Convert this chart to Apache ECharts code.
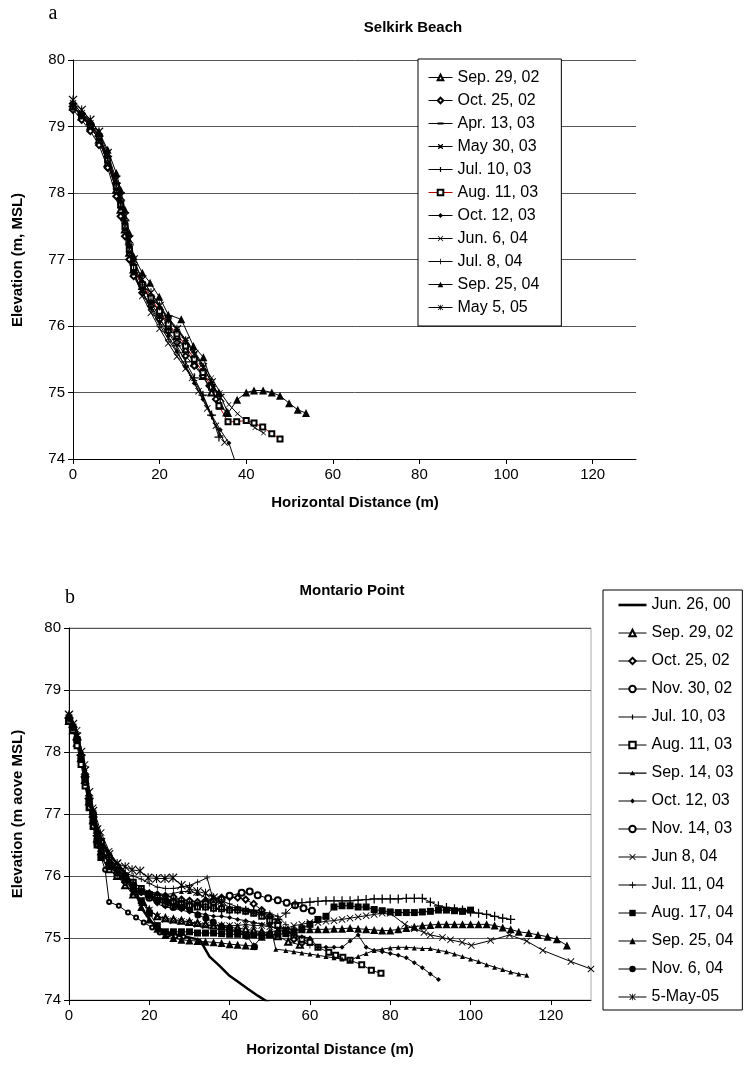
<!DOCTYPE html>
<html><head><meta charset="utf-8">
<script src="https://cdn.jsdelivr.net/npm/echarts@6/dist/echarts.min.js"></script>
<style>
html,body{margin:0;padding:0;background:#fff;}
#ca{position:absolute;left:0;top:0;width:746px;height:560px;}
#cb{position:absolute;left:0;top:560px;width:746px;height:506px;}
</style></head>
<body><div id="ca"></div><div id="cb"></div>
<script>
// ---------- DATA ----------
const xTicks = [0, 20, 40, 60, 80, 100, 120];
const xMax = 130;
const yMin = 74, yMax = 80;

// Selkirk Beach (a)
const selkirkNames = ['Sep. 29, 02','Oct. 25, 02','Apr. 13, 03','May 30, 03','Jul. 10, 03','Aug. 11, 03','Oct. 12, 03','Jun. 6, 04','Jul. 8, 04','Sep. 25, 04','May 5, 05'];
const sk_sep29_02 = [[0,79.3],[2,79.15],[4,79.0],[6,78.8],[8,78.45],[10,78.05],[11,77.75],[12,77.45],[13,77.1],[14,76.85],[16,76.6],[18,76.4],[20,76.2],[22,76.0],[24,75.85],[26,75.65],[28,75.45],[30,75.25],[32,75.0],[34,74.8],[35.5,74.7]];
const sk_oct25_02 = [[0,79.25],[2,79.1],[4,78.93],[6,78.72],[8,78.38],[10,77.95],[11,77.65],[12,77.35],[13,77.0],[14,76.75],[16,76.5],[18,76.3],[20,76.1],[22,75.92],[24,75.75],[26,75.55],[28,75.4],[30,75.25],[31.5,75.1],[33,74.9]];
const sk_apr13_03 = [[0,79.3],[2,79.17],[4,79.02],[6,78.85],[8,78.5],[10,78.1],[11,77.85],[12,77.55],[13,77.2],[14,76.9],[16,76.65],[18,76.45],[20,76.28],[22,76.1],[24,75.95],[26,75.78],[28,75.6],[30,75.4],[32,75.15],[33.5,74.95]];
const sk_may30_03 = [[0,79.35],[2,79.2],[4,79.05],[6,78.88],[8,78.55],[10,78.15],[11,77.9],[12,77.6],[13,77.25],[14,76.95],[16,76.7],[18,76.5],[20,76.32],[22,76.12],[24,75.97],[26,75.8],[28,75.62],[30,75.42],[32,75.22],[34,75.0],[36,74.82],[38,74.68],[40,74.57],[42,74.47],[44,74.39]];
const sk_jul10_03 = [[0,79.3],[2,79.15],[4,79.0],[6,78.8],[8,78.45],[10,78.05],[11,77.78],[12,77.45],[13,77.1],[14,76.8],[16,76.5],[18,76.25],[20,76.02],[22,75.8],[24,75.6],[26,75.4],[28,75.18],[30,74.95],[32,74.65],[34,74.35]];
const sk_aug11_03 = [[0,79.3],[2,79.16],[4,79.02],[6,78.85],[8,78.5],[10,78.1],[11,77.82],[12,77.5],[13,77.15],[14,76.88],[16,76.62],[18,76.42],[20,76.22],[22,76.03],[24,75.88],[26,75.7],[28,75.5],[30,75.3],[32,75.08],[33.7,74.8],[35.8,74.56],[37.8,74.56],[40,74.58],[41.8,74.54],[43.8,74.48],[45.9,74.38],[47.8,74.3]];
const sk_oct12_03 = [[0,79.3],[2,79.15],[4,79.0],[6,78.8],[8,78.45],[10,78.05],[11,77.78],[12,77.45],[13,77.1],[14,76.82],[16,76.52],[18,76.28],[20,76.06],[22,75.85],[24,75.62],[26,75.38],[28,75.14],[30,74.9],[32,74.66],[34,74.44],[36,74.24],[37.5,73.95]];
const sk_jun6_04 = [[0,79.35],[2,79.2],[4,79.05],[6,78.85],[8,78.5],[10,78.1],[11,77.82],[12,77.5],[13,77.15],[14,76.82],[16,76.45],[18,76.2],[20,75.96],[22,75.74],[24,75.54],[26,75.36],[27.5,75.22],[29,75.02],[31,74.76],[33,74.5],[35,74.25]];
const sk_jul8_04 = [[0,79.3],[2,79.18],[4,79.03],[6,78.85],[8,78.55],[10,78.15],[11,77.88],[12,77.58],[13,77.22],[14,76.92],[16,76.62],[18,76.36],[20,76.12],[22,75.9],[24,75.7],[26,75.46],[28,75.22],[30,74.96],[32,74.66],[33.7,74.33]];
const sk_sep25_04 = [[0,79.35],[2,79.2],[4,79.08],[6,78.92],[8,78.65],[10,78.3],[11,78.05],[12,77.75],[13,77.4],[14,77.05],[16,76.8],[17.8,76.65],[19.9,76.44],[22,76.17],[25,76.1],[27.8,75.7],[30.1,75.53],[32.4,75.07],[33.7,75.0],[35.8,74.69],[37.9,74.89],[40,75.0],[41.8,75.03],[43.9,75.03],[45.9,75.0],[47.8,74.95],[49.9,74.84],[51.9,74.74],[53.8,74.69]];
const sk_may5_05 = [[0,79.4],[2,79.25],[4,79.1],[6,78.92],[8,78.6],[10,78.2],[11,77.95],[12,77.65],[13,77.3],[14,77.0],[16,76.7],[18,76.5],[20,76.3],[22,76.1],[24,75.95],[26,75.78],[28,75.58],[30,75.38],[32,75.15],[34,74.92]];
const selkirkData = [sk_sep29_02, sk_oct25_02, sk_apr13_03, sk_may30_03, sk_jul10_03, sk_aug11_03, sk_oct12_03, sk_jun6_04, sk_jul8_04, sk_sep25_04, sk_may5_05];

// Montario Point (b)
const montarioNames = ['Jun. 26, 00','Sep. 29, 02','Oct. 25, 02','Nov. 30, 02','Jul. 10, 03','Aug. 11, 03','Sep. 14, 03','Oct. 12, 03','Nov. 14, 03','Jun 8, 04','Jul. 11, 04','Aug. 17, 04','Sep. 25, 04','Nov. 6, 04','5-May-05'];
const mp_jun26_00 = [[0,78.6],[2,78.3],[4,77.7],[6,77.0],[8,76.6],[10,76.35],[12,76.2],[14,76.05],[16,75.85],[17,75.7],[18.4,75.45],[20,75.3],[22,75.16],[25,75.08],[29,75.02],[32.6,74.97],[35,74.7],[37.5,74.55],[39.8,74.4],[42,74.3],[44.5,74.18],[47,74.07],[50.4,73.93]];
const mp_sep29_02 = [[0,78.5],[1,78.35],[2,78.15],[3,77.9],[4,77.55],[5,77.2],[6,76.9],[7,76.6],[8,76.4],[10,76.2],[12,76.0],[14,75.85],[16,75.7],[18.4,75.58],[20,75.45],[22,75.35],[24,75.32],[26,75.3],[28,75.28],[30,75.26],[32,75.24],[34,75.22],[36,75.2],[38,75.19],[40,75.17],[42,75.16],[44,75.14],[46,75.12],[48,75.1],[50,75.07],[52,75.03],[54.6,74.94],[57.5,74.89]];
const mp_oct25_02 = [[0,78.55],[1,78.4],[2,78.2],[3,77.95],[4,77.6],[5,77.25],[6,76.95],[7,76.65],[8,76.45],[10,76.2],[12,76.05],[14,75.9],[16,75.8],[18,75.75],[20,75.72],[22,75.7],[24,75.68],[26,75.66],[28,75.62],[30,75.6],[32,75.58],[34,75.6],[36,75.62],[38,75.65],[40,75.66],[42,75.65],[44,75.62],[46,75.55],[48,75.45],[50,75.35],[52,75.25],[54,75.1],[56,74.98],[58,74.92]];
const mp_nov30_02 = [[0,78.5],[2,78.2],[4,77.6],[6,77.0],[8,76.55],[10,76.3],[12,76.15],[14,76.0],[16,75.85],[18,75.75],[20,75.65],[22,75.6],[24,75.55],[26,75.5],[28,75.5],[30,75.5],[32,75.52],[34,75.55],[36,75.58],[38,75.62],[40,75.68],[43,75.73],[45,75.75],[47,75.69],[49.6,75.64],[52,75.61],[54.2,75.57],[56.3,75.53],[58.4,75.48],[60.5,75.44]];
const mp_jul10_03 = [[0,78.6],[1,78.45],[2,78.25],[3,78.0],[4,77.65],[5,77.3],[6,77.0],[7,76.7],[8,76.5],[10,76.3],[12,76.15],[14,76.05],[16,76.0],[18,75.95],[20,75.88],[22,75.82],[24,75.8],[26,75.8],[28,75.82],[30,75.85],[32,75.9],[34.4,75.97],[35.6,75.69],[38,75.6],[40,75.55],[42,75.5],[44,75.47],[46,75.45],[48,75.43],[50,75.4],[52,75.35],[54,75.22],[56,75.08],[58,74.95],[60,74.88]];
const mp_aug11_03 = [[0,78.5],[1,78.35],[2,78.1],[3,77.8],[4,77.45],[5,77.1],[6,76.8],[7,76.5],[8,76.3],[10,76.1],[12,76.0],[14,75.95],[16,75.9],[18,75.8],[20,75.7],[22,75.65],[24,75.6],[26,75.58],[28,75.55],[30,75.52],[32,75.5],[34,75.5],[36,75.48],[38,75.47],[40,75.45],[42,75.45],[44,75.43],[46,75.4],[48,75.35],[50,75.28],[52,75.2],[54,75.12],[56,75.05],[58,74.98],[60,74.93],[62,74.85],[64.7,74.77],[66.4,74.72],[68.2,74.69],[70,74.64],[72.9,74.57],[75.3,74.48],[77.7,74.43]];
const mp_sep14_03 = [[0,78.6],[1,78.45],[2,78.25],[3,78.0],[4,77.65],[5,77.3],[6,77.0],[7,76.7],[8,76.45],[10,76.25],[12,76.1],[14,76.0],[16,75.9],[18,75.8],[20,75.75],[22,75.72],[24,75.7],[26,75.72],[28,75.75],[30,75.75],[32,75.72],[34,75.65],[36,75.6],[38,75.55],[40,75.5],[42,75.48],[44,75.45],[46,75.42],[48,75.4],[50,75.25],[51.5,74.82],[54,74.8],[56,74.78],[58,74.76],[60,74.74],[62,74.72],[64,74.7],[66,74.68],[68,74.66],[70,74.64],[72,74.7],[74,74.75],[76,74.8],[78,74.82],[80,74.84],[82,74.85],[84,74.85],[86,74.84],[88,74.83],[90,74.83],[92,74.8],[94,74.78],[96,74.74],[98,74.7],[100,74.66],[102,74.62],[104,74.57],[106,74.53],[108,74.49],[110,74.45],[112,74.42],[114,74.4]];
const mp_oct12_03 = [[0,78.55],[2,78.3],[4,77.7],[6,77.0],[8,76.6],[10,76.3],[12,76.1],[14,76.0],[16,75.85],[18,75.75],[20,75.65],[22,75.55],[24,75.5],[26,75.48],[28,75.45],[30,75.42],[32,75.4],[34,75.38],[36,75.35],[38,75.35],[40,75.33],[42,75.3],[44,75.28],[46,75.25],[48,75.22],[50,75.2],[52,75.15],[54,75.1],[56,75.05],[58,75.02],[60,75.0],[62,74.85],[64,74.85],[66,74.85],[68,74.85],[70,74.95],[72,75.05],[74,74.85],[76,74.8],[78,74.78],[80,74.75],[82,74.72],[84,74.68],[86,74.6],[88,74.52],[90,74.42],[92,74.33]];
const mp_nov14_03 = [[0,78.55],[1,78.4],[2,78.2],[3,77.9],[4,77.5],[5,77.1],[6,76.8],[7,76.5],[8,76.3],[9,76.1],[10,75.58],[12.4,75.52],[14.7,75.41],[16.7,75.33],[18.6,75.25],[20.7,75.17],[22.6,75.09],[24.5,75.05],[26.5,75.03],[28.5,75.02]];
const mp_jun8_04 = [[0,78.6],[2,78.35],[4,77.8],[6,77.1],[8,76.7],[10,76.4],[12,76.2],[14,76.0],[16,75.8],[18,75.6],[20,75.45],[22,75.35],[24,75.3],[26,75.28],[28,75.27],[30,75.25],[32,75.22],[34,75.2],[36,75.2],[38,75.2],[40,75.2],[42,75.2],[44,75.22],[46,75.2],[48,75.2],[50,75.18],[52,75.15],[54,75.15],[56,75.2],[58,75.22],[60,75.25],[62,75.25],[64,75.27],[66,75.28],[68,75.3],[70,75.32],[72,75.34],[74,75.36],[76,75.38],[78,75.4],[80,75.4],[83.6,75.22],[86,75.15],[88.4,75.09],[90,75.05],[93,75.01],[95,74.97],[97.9,74.93],[100.2,74.88],[105,74.96],[109.7,75.05],[114,74.95],[118,74.8],[125,74.62],[130,74.5]];
const mp_jul11_04 = [[0,78.55],[1,78.4],[2,78.2],[3,77.95],[4,77.6],[5,77.25],[6,76.95],[7,76.65],[8,76.45],[10,76.2],[12,76.05],[14,75.95],[16,75.85],[18,75.75],[20,75.7],[22,75.65],[24,75.62],[26,75.6],[28,75.58],[30,75.55],[32,75.52],[34,75.5],[36,75.48],[38,75.46],[40,75.45],[42,75.45],[44,75.44],[46,75.42],[48,75.4],[50,75.35],[52,75.3],[54,75.4],[56.3,75.55],[58,75.57],[60,75.58],[62,75.59],[64,75.6],[66,75.6],[68,75.6],[70,75.6],[72,75.61],[74,75.62],[76,75.63],[78,75.63],[80,75.63],[82,75.63],[84,75.64],[86,75.64],[88,75.64],[90,75.58],[92,75.52],[94,75.49],[96,75.47],[98,75.45],[100,75.42],[102,75.4],[104,75.38],[106,75.35],[108,75.32],[110,75.3]];
const mp_aug17_04 = [[0,78.55],[1,78.4],[2,78.2],[3,77.9],[4,77.55],[5,77.2],[6,76.9],[7,76.55],[8,76.3],[10,76.15],[12,76.05],[14,75.95],[16,75.8],[18,75.6],[20,75.4],[22,75.2],[24,75.1],[26,75.1],[28,75.1],[30,75.1],[32,75.08],[34,75.08],[36,75.08],[38,75.07],[40,75.06],[42,75.06],[44,75.05],[46,75.05],[48,75.05],[50,75.05],[52,75.06],[54,75.07],[56,75.1],[58,75.15],[60,75.22],[62,75.3],[64,75.35],[66,75.5],[68,75.52],[70,75.52],[72,75.5],[74,75.5],[76,75.46],[78,75.44],[80,75.42],[82,75.41],[84,75.41],[86,75.41],[88,75.42],[90,75.43],[92,75.45],[94,75.45],[96,75.44],[98,75.43],[100,75.45]];
const mp_sep25_04 = [[0,78.6],[1,78.45],[2,78.25],[3,78.0],[4,77.65],[5,77.3],[6,77.0],[7,76.7],[8,76.45],[10,76.25],[12,76.1],[14,75.95],[16,75.75],[18,75.5],[20,75.3],[22,75.15],[24,75.05],[26,75.0],[28,74.97],[30,74.96],[32,74.95],[34,74.94],[36,74.93],[38,74.92],[40,74.9],[42,74.89],[44,74.88],[46,74.87],[48,75.02],[50,75.1],[52,75.12],[54,75.13],[56,75.14],[58,75.14],[60,75.14],[62,75.14],[64,75.14],[66,75.15],[68,75.15],[70,75.16],[72,75.15],[74,75.14],[76,75.13],[78,75.12],[80,75.12],[82,75.14],[84,75.16],[86,75.18],[88,75.2],[90,75.21],[92,75.22],[94,75.22],[96,75.22],[98,75.22],[100,75.22],[102,75.22],[104,75.22],[106,75.2],[108,75.17],[110,75.14],[112,75.1],[114.5,75.08],[116.8,75.05],[119.2,75.02],[121.5,74.98],[124,74.88]];
const mp_nov6_04 = [[0,78.55],[1,78.4],[2,78.2],[3,77.9],[4,77.55],[5,77.2],[6,76.9],[7,76.6],[8,76.4],[10,76.2],[12,76.1],[14,75.98],[16,75.85],[18,75.75],[19.7,75.69],[21.9,75.61],[24.4,75.58],[26.4,75.52],[28.2,75.5],[30.1,75.45],[32.1,75.37],[34.1,75.32],[35.9,75.26],[38,75.18],[40,75.16],[42,75.1],[44.3,75.03],[46.2,74.86]];
const mp_may5_05 = [[0,78.6],[1,78.45],[2,78.25],[3,78.0],[4,77.7],[5,77.35],[6,77.05],[7,76.75],[8,76.55],[10,76.35],[12,76.2],[14,76.15],[15.7,76.1],[17.7,76.08],[19.7,75.97],[21.8,75.96],[23.9,75.96],[25.9,75.97],[28,75.85],[30,75.8],[32,75.75],[34,75.72],[36,75.65],[38,75.6]];
const montarioData = [mp_jun26_00, mp_sep29_02, mp_oct25_02, mp_nov30_02, mp_jul10_03, mp_aug11_03, mp_sep14_03, mp_oct12_03, mp_nov14_03, mp_jun8_04, mp_jul11_04, mp_aug17_04, mp_sep25_04, mp_nov6_04, mp_may5_05];

// ---------- STYLES ----------
const P_X = 'path://M0,1.8L1.8,0L10,8.2L18.2,0L20,1.8L11.8,10L20,18.2L18.2,20L10,11.8L1.8,20L0,18.2L8.2,10Z';
const P_PLUS = 'path://M8.6,0H11.4V8.6H20V11.4H11.4V20H8.6V11.4H0V8.6H8.6Z';
const P_STAR = 'path://M0,1.8L1.8,0L10,8.2L18.2,0L20,1.8L11.8,10L20,18.2L18.2,20L10,11.8L1.8,20L0,18.2L8.2,10Z M8.8,0H11.2V20H8.8Z';
const P_DASH = 'path://M0,0H20V4H0Z';

// legend icons (line + small marker) for entries whose marker is tiny
function lineIcon(w, marker) {
  const c = w / 2;
  let m = '';
  if (marker === 'dash') m = `M${c-3},4.1H${c+3}V5.9H${c-3}Z`;
  if (marker === 'plus') m = `M${c-0.6},2.5H${c+0.6}V7.5H${c-0.6}Z`;
  if (marker === 'x') { const a = c - 2.5, b = 2.5;
    m = `M${a},${b}L${a+0.9},${b}L${a+5},${b+4.1}L${a+5},${b+5}L${a+4.1},${b+5}L${a},${b+0.9}Z M${a+5},${b}L${a+5},${b+0.9}L${a+0.9},${b+5}L${a},${b+5}L${a},${b+4.1}L${a+4.1},${b}Z`; }
  if (marker === 'diamond') m = `M${c},2.5L${c+2.5},5L${c},7.5L${c-2.5},5Z`;
  if (marker === 'triangle') m = `M${c},2.6L${c+2.7},7.2L${c-2.7},7.2Z`;
  if (marker === 'thick') return `path://M0,3.7H${w}V6.3H0Z`;
  return `path://M0,4.4H${w}V5.6H0Z ${m}`;
}

const selkirkStyle = [
  {s:'emptyTriangle', z:6},
  {s:'emptyDiamond', z:6},
  {s:P_DASH, z:[6,1.4], p:1, icon:'dash'},
  {s:P_X, z:5, p:1, icon:'x'},
  {s:P_PLUS, z:6, p:1, icon:'plus'},
  {s:'emptyRect', z:5, line:'#b00000'},
  {s:'diamond', z:5, p:1, icon:'diamond'},
  {s:P_X, z:7, p:1},
  {s:P_PLUS, z:9, p:1},
  {s:'triangle', z:8, p:1},
  {s:P_STAR, z:9, p:1}
];
const montarioStyle = [
  {s:'none', z:0, w:2.5, p:1, icon:'thick'},
  {s:'emptyTriangle', z:6},
  {s:'emptyDiamond', z:6},
  {s:'emptyCircle', z:6},
  {s:P_PLUS, z:6, p:1, icon:'plus'},
  {s:'emptyRect', z:5},
  {s:'triangle', z:5, p:1, icon:'triangle'},
  {s:'diamond', z:5, p:1, icon:'diamond'},
  {s:'emptyCircle', z:4},
  {s:P_X, z:7, p:1},
  {s:P_PLUS, z:9, p:1},
  {s:'rect', z:7, p:1},
  {s:'triangle', z:8, p:1},
  {s:'circle', z:7, p:1},
  {s:P_STAR, z:9, p:1}
];

const FONT = 'Liberation Sans';

function buildSeries(names, datas, styles) {
  return names.map((n, i) => {
    const st = styles[i];
    return {
      type: 'line', name: n, data: datas[i],
      symbol: st.s, symbolSize: st.z,
      color: '#000',
      lineStyle: {color: st.line || '#000', width: st.w || 1},
      itemStyle: {color: '#000', borderColor: '#000', borderWidth: st.p ? 0 : 1},
      clip: true, animation: false,
      emphasis: {disabled: true}
    };
  });
}
function legendData(names, styles, w) {
  return names.map((n, i) => styles[i].icon ? {name: n, icon: lineIcon(w, styles[i].icon)} : {name: n});
}

function axes() {
  return {
    xAxis: {
      type: 'value', min: 0, max: xMax, interval: 20,
      axisLine: {show: true, onZero: false, lineStyle: {color: '#000', width: 1}},
      axisTick: {show: true, length: 5, lineStyle: {color: '#000'}},
      axisLabel: {showMaxLabel: false, fontSize: 15, color: '#000', fontFamily: FONT, margin: 8},
      splitLine: {show: false}
    },
    yAxis: {
      type: 'value', min: yMin, max: yMax, interval: 1,
      axisLine: {show: true, onZero: false, lineStyle: {color: '#000', width: 1}},
      axisTick: {show: true, length: 5, lineStyle: {color: '#000'}},
      axisLabel: {fontSize: 15, color: '#000', fontFamily: FONT, margin: 8},
      splitLine: {show: true, lineStyle: {color: '#555', width: 1}}
    }
  };
}

// ---------- CHART A ----------
const ca = echarts.init(document.getElementById('ca'), null, {renderer: 'canvas'});
const axA = axes();
ca.setOption({
  animation: false,
  backgroundColor: '#fff',
  grid: {left: 73, top: 60, width: 563, height: 399, containLabel: false},
  xAxis: axA.xAxis, yAxis: axA.yAxis,
  legend: {
    orient: 'vertical', left: 418, top: 59,
    data: legendData(selkirkNames, selkirkStyle, 24),
    itemWidth: 24, itemHeight: 7, itemGap: 6,
    padding: [10, 22, 10, 10],
    borderColor: '#000', borderWidth: 1, backgroundColor: '#fff',
    lineStyle: {width: 1},
    textStyle: {fontSize: 16, fontFamily: FONT, color: '#000', lineHeight: 17},
    selectedMode: false
  },
  graphic: [
    {type: 'text', x: 53, y: 14, style: {text: 'a', font: '20px "Liberation Serif"', fill: '#000', textAlign: 'center', textVerticalAlign: 'middle'}},
    {type: 'text', x: 413, y: 28, style: {text: 'Selkirk Beach', font: 'bold 15px "Liberation Sans"', fill: '#000', textAlign: 'center', textVerticalAlign: 'middle'}},
    {type: 'text', x: 355, y: 503, style: {text: 'Horizontal Distance (m)', font: 'bold 15px "Liberation Sans"', fill: '#000', textAlign: 'center', textVerticalAlign: 'middle'}},
    {type: 'text', x: 18, y: 260, rotation: Math.PI / 2, style: {text: 'Elevation (m, MSL)', font: 'bold 15px "Liberation Sans"', fill: '#000', textAlign: 'center', textVerticalAlign: 'middle'}}
  ],
  series: buildSeries(selkirkNames, selkirkData, selkirkStyle)
});

// ---------- CHART B ----------
const cb = echarts.init(document.getElementById('cb'), null, {renderer: 'canvas'});
const axB = axes();
cb.setOption({
  animation: false,
  backgroundColor: '#fff',
  grid: {left: 69, top: 68, width: 522, height: 372, containLabel: false, show: true, borderColor: '#aaa', borderWidth: 1},
  xAxis: axB.xAxis, yAxis: axB.yAxis,
  legend: {
    orient: 'vertical', left: 603, top: 30,
    data: legendData(montarioNames, montarioStyle, 28),
    itemWidth: 28, itemHeight: 8, itemGap: 10,
    padding: [6, 9, 4, 15],
    borderColor: '#000', borderWidth: 1, backgroundColor: '#fff',
    lineStyle: {width: 1},
    textStyle: {fontSize: 16, fontFamily: FONT, color: '#000', lineHeight: 18},
    selectedMode: false
  },
  graphic: [
    {type: 'text', x: 70, y: 38, style: {text: 'b', font: '20px "Liberation Serif"', fill: '#000', textAlign: 'center', textVerticalAlign: 'middle'}},
    {type: 'text', x: 352, y: 31, style: {text: 'Montario Point', font: 'bold 15px "Liberation Sans"', fill: '#000', textAlign: 'center', textVerticalAlign: 'middle'}},
    {type: 'text', x: 330, y: 490, style: {text: 'Horizontal Distance (m)', font: 'bold 15px "Liberation Sans"', fill: '#000', textAlign: 'center', textVerticalAlign: 'middle'}},
    {type: 'text', x: 18, y: 254, rotation: Math.PI / 2, style: {text: 'Elevation (m aove MSL)', font: 'bold 15px "Liberation Sans"', fill: '#000', textAlign: 'center', textVerticalAlign: 'middle'}}
  ],
  series: buildSeries(montarioNames, montarioData, montarioStyle)
});
</script>
</body></html>
